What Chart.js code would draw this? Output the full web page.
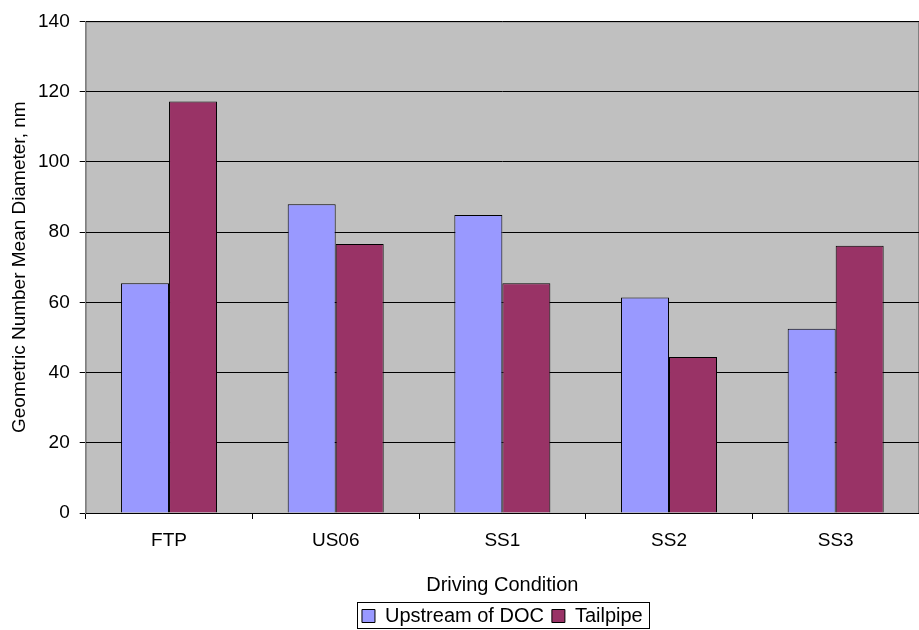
<!DOCTYPE html>
<html>
<head>
<meta charset="utf-8">
<script src="https://cdn.jsdelivr.net/npm/chart.js@4"></script>
<style>
  html, body { margin: 0; padding: 0; background: #fff; }
  #wrap { width: 919px; height: 630px; }
</style>
</head>
<body>
<div id="wrap"><canvas id="chart"></canvas></div>
<script>
"use strict";

const conditions = ["FTP", "US06", "SS1", "SS2", "SS3"];
const upstream = [65.4, 87.9, 84.9, 61.4, 52.5];
const tailpipe = [117.2, 76.6, 65.4, 44.4, 76.1];
const yTicks = [0, 20, 40, 60, 80, 100, 120, 140];

const FAMILY = "Liberation Sans, Arial";
const FONT = { family: FAMILY, size: 19 };
const FONT_TIGHT = { family: FAMILY, size: 19, lineHeight: 1 };
const FONT_BIG = { family: FAMILY, size: 20 };

const plotBg = {
    id: "plotBg",
    beforeDraw(chart) {
        const a = chart.chartArea, ctx = chart.ctx;
        ctx.save();
        ctx.fillStyle = "#C0C0C0";
        ctx.fillRect(a.left, a.top, a.right - a.left, a.bottom - a.top);
        ctx.strokeStyle = "#808080";
        ctx.lineWidth = 1;
        ctx.strokeRect(a.left + 0.5, a.top + 0.5, a.right - a.left - 1, a.bottom - a.top);
        ctx.restore();
    },
    afterDraw(chart) {
        // box round the legend
        const items = chart.legend.legendHitBoxes, ctx = chart.ctx;
        if (!items.length) return;
        const last = items[items.length - 1];
        const x0 = items[0].left - 5;
        const x1 = last.left + last.width + 6;
        const y0 = items[0].top - 4;
        const y1 = items[0].top + items[0].height + 2;
        ctx.save();
        ctx.strokeStyle = "#000";
        ctx.lineWidth = 1;
        ctx.strokeRect(Math.round(x0) + 0.5, Math.round(y0) + 0.5, Math.round(x1 - x0), Math.round(y1 - y0));
        ctx.restore();
    }
};

new Chart(document.getElementById("chart"), {
    type: "bar",
    data: {
        labels: conditions,
        datasets: [{
            label: "Upstream of DOC",
            data: upstream,
            backgroundColor: "#9999FF",
            borderColor: "#000",
            borderWidth: 1
        }, {
            label: "Tailpipe",
            data: tailpipe,
            backgroundColor: "#993366",
            borderColor: "#000",
            borderWidth: 1
        }]
    },
    options: {
        responsive: true,
        maintainAspectRatio: false,
        animation: false,
        datasets: {
            bar: { categoryPercentage: 0.576, barPercentage: 1.0 }
        },
        layout: { padding: { top: 7, right: 0, left: 10, bottom: -6 } },
        scales: {
            x: {
                grid: {
                    offset: true,
                    drawOnChartArea: false,
                    color: "#000",
                    tickLength: 6
                },
                border: { color: "#000" },
                ticks: {
                    color: "#000",
                    font: FONT_TIGHT,
                    padding: 12
                },
                title: {
                    display: true,
                    text: "Driving Condition",
                    color: "#000",
                    font: FONT_BIG,
                    padding: { top: 11, bottom: 1 }
                }
            },
            y: {
                min: 0,
                max: 140,
                afterBuildTicks(axis) {
                    axis.ticks = yTicks.map(v => ({ value: v }));
                },
                grid: {
                    color: "#000",
                    tickLength: 6
                },
                border: { color: "#808080" },
                ticks: {
                    color: "#000",
                    font: FONT,
                    padding: 10
                },
                title: {
                    display: true,
                    text: "Geometric Number Mean Diameter, nm",
                    color: "#000",
                    font: FONT_TIGHT,
                    padding: { top: 0, bottom: -1 }
                }
            }
        },
        plugins: {
            legend: {
                position: "bottom",
                fullSize: false,
                labels: {
                    color: "#000",
                    font: FONT_BIG,
                    boxWidth: 13,
                    boxHeight: 13,
                    padding: 8
                }
            },
            tooltip: { enabled: false }
        }
    },
    plugins: [plotBg]
});
</script>
</body>
</html>
